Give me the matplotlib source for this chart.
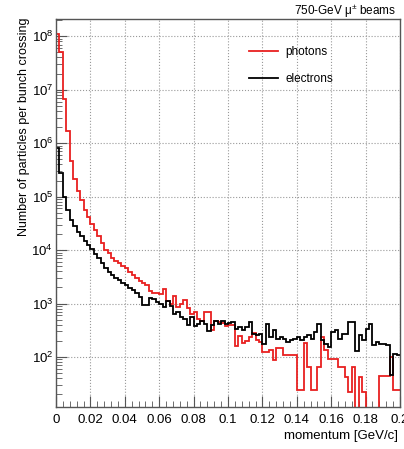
import numpy as np
import matplotlib
matplotlib.use("Agg")
import matplotlib.pyplot as plt
from matplotlib.ticker import MultipleLocator, FixedLocator, LogLocator, FuncFormatter, NullFormatter

plt.rcParams['font.family'] = ['Liberation Sans', 'DejaVu Sans']
plt.rcParams['mathtext.fontset'] = 'custom'
plt.rcParams['mathtext.rm'] = 'Liberation Sans'
plt.rcParams['mathtext.default'] = 'regular'

# histogram: 100 bins of 0.002 GeV/c from 0 to 0.2
bin_width = 0.002
n_bins = 100

photons = [
    1.1e8, 5.0e7, 6.6e6, 1.7e6, 4.6e5, 2.1e5, 1.3e5, 8.6e4, 5.5e4, 4.1e4,
    3.1e4, 2.4e4, 1.8e4, 1.35e4, 1.0e4, 8.8e3, 7.0e3, 6.2e3, 5.7e3, 5.0e3,
    4.6e3, 3.9e3, 3.4e3, 3.0e3, 2.6e3, 2.4e3, 2.2e3, 1.7e3, 1.6e3, 1.55e3,
    1.5e3, 1.9e3, 1.1e3, 1.0e3, 1.4e3, 850, 1000, 1150, 820, 650,
    700, 520, 470, 680, 680, 320, 470, 450, 430, 380,
    400, 390, 160, 250, 180, 200, 235, 280, 210, 190,
    125, 125, 135, 87, 145, 145, 108, 108, 108, 108,
    24, 24, 180, 65, 24, 24, 65, 235, 135, 93,
    93, 93, 65, 65, 43, 22, 65, 0, 43, 22,
    0, 0, 0, 0, 45, 45, 45, 100, 24, 24,
]

electrons = [
    8.0e5, 2.8e5, 1.0e5, 5.5e4, 3.6e4, 2.8e4, 2.2e4, 1.8e4, 1.5e4, 1.25e4,
    1.05e4, 8.6e3, 7.0e3, 5.7e3, 4.7e3, 3.9e3, 3.4e3, 3.0e3, 2.7e3, 2.4e3,
    2.2e3, 1.95e3, 1.8e3, 1.6e3, 1.3e3, 950, 920, 1250, 1200, 1050,
    980, 860, 1100, 900, 650, 700, 560, 520, 400, 560,
    380, 420, 480, 420, 300, 390, 480, 420, 480, 420,
    430, 450, 330, 360, 315, 364, 452, 273, 255, 273,
    178, 422, 237, 315, 221, 237, 221, 191, 205, 221,
    237, 205, 237, 255, 221, 294, 422, 205, 178, 154,
    294, 315, 221, 273, 273, 452, 452, 130, 255, 205,
    339, 420, 166, 191, 178, 178, 166, 46, 115, 110,
]

y_decades = [1e2, 1e3, 1e4, 1e5, 1e6, 1e7, 1e8]

edges = np.arange(n_bins + 1) * bin_width

fig = plt.figure(figsize=(4.04, 4.49), dpi=100)
ax = fig.add_axes([56 / 404, 1 - 407 / 449, 344 / 404, 388 / 449])

# empty bins are drawn down to the bottom of the log axis
ph = np.clip(np.array(photons, dtype=float), 1, None)
el = np.clip(np.array(electrons, dtype=float), 1, None)
ax.stairs(ph, edges, baseline=None, color='#e82020', lw=1.3, label='photons')
ax.stairs(el, edges, baseline=None, color='black', lw=1.3, label='electrons')

ax.set_yscale('log')
ax.set_xlim(0, 0.2)
ax.set_ylim(11.6, 2.1e8)

ax.xaxis.set_major_locator(MultipleLocator(0.02))
ax.xaxis.set_minor_locator(MultipleLocator(0.004))
ax.xaxis.set_major_formatter(FuncFormatter(lambda v, p: '%g' % round(v, 3)))
ax.yaxis.set_major_locator(FixedLocator(y_decades))
ax.yaxis.set_minor_locator(LogLocator(base=10, subs=np.arange(2, 10), numticks=12))
ax.yaxis.set_minor_formatter(NullFormatter())

ax.tick_params(which='both', direction='in', top=False, right=False,
               colors='#555555', labelcolor='black', labelsize=9.5)
ax.tick_params(axis='x', which='major', length=8, pad=5)
ax.tick_params(axis='x', which='minor', length=4)
ax.tick_params(axis='y', which='major', length=8, pad=2)
ax.tick_params(axis='y', which='minor', length=4)
for s in ax.spines.values():
    s.set_color('#555555')
    s.set_linewidth(1.0)

ax.grid(True, which='major', linestyle=':', color='#999999', linewidth=0.8)
ax.set_axisbelow(True)

fig.text(24 / 404, 1 - 18 / 449, 'Number of particles per bunch crossing',
         rotation=90, ha='center', va='top', fontsize=9)
fig.text(398 / 404, 1 - 436 / 449, 'momentum [GeV/c]', ha='right', va='center',
         fontsize=9.5)
fig.text(396 / 404, 1 - 11 / 449, r'750-GeV $\mu^{\pm}$ beams', ha='right',
         va='center', fontsize=8.5)

ax.legend(loc='upper left', bbox_to_anchor=(0.561, 0.93), frameon=False,
          fontsize=8.5, handlelength=2.5, handletextpad=0.6, labelspacing=1.25,
          borderpad=0, borderaxespad=0)

fig.savefig('out.png', dpi=100)
